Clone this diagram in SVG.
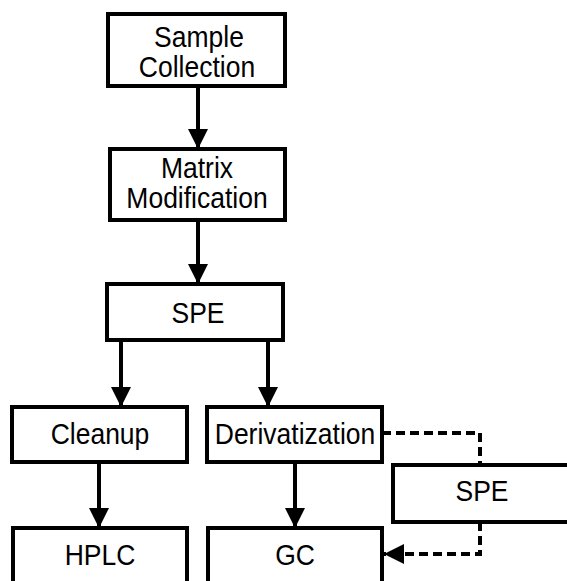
<svg xmlns="http://www.w3.org/2000/svg" width="567" height="581" viewBox="0 0 567 581">
<style>
.box{fill:#fff;stroke:#000;stroke-width:4}
.t{font-family:"Liberation Sans",Arial,sans-serif;font-size:26.5px;fill:#000;text-anchor:middle}
.c{stroke:#000;stroke-width:4;fill:none}
.d{stroke:#000;stroke-width:4;fill:none;stroke-dasharray:9,5}
</style>
<defs>
<marker id="ah" markerUnits="userSpaceOnUse" markerWidth="20" markerHeight="20" refX="20" refY="10" orient="auto">
<path d="M0,0 L20,10 L0,20 Z" fill="#000"/>
</marker>
</defs>
<rect width="567" height="581" fill="#fff"/>
<g id="connectors">
<line class="c" x1="198" y1="86" x2="198" y2="149" marker-end="url(#ah)"/>
<line class="c" x1="198" y1="220" x2="198" y2="284" marker-end="url(#ah)"/>
<line class="c" x1="121" y1="340" x2="121" y2="407" marker-end="url(#ah)"/>
<line class="c" x1="268" y1="340" x2="268" y2="407" marker-end="url(#ah)"/>
<line class="c" x1="99" y1="462" x2="99" y2="528" marker-end="url(#ah)"/>
<line class="c" x1="295" y1="462" x2="295" y2="528" marker-end="url(#ah)"/>
<polyline class="d" points="382,433 480,433 480,465"/>
<polyline class="d" points="480,522 480,554 384,554" marker-end="url(#ah)"/>
</g>
<g id="sample"><rect class="box" x="108" y="14" width="177" height="72"/><text class="t" transform="translate(199,47) scale(1,1.1)">Sample</text><text class="t" transform="translate(197,77) scale(1,1.1)">Collection</text></g>
<g id="matrix"><rect class="box" x="110" y="149" width="175" height="71"/><text class="t" transform="translate(197,178) scale(1,1.1)">Matrix</text><text class="t" transform="translate(197,208) scale(1,1.1)">Modification</text></g>
<g id="spe"><rect class="box" x="107" y="284" width="176" height="56"/><text class="t" transform="translate(198,323) scale(1,1.1)">SPE</text></g>
<g id="cleanup"><rect class="box" x="12" y="407" width="175" height="55"/><text class="t" transform="translate(100,444) scale(1,1.1)">Cleanup</text></g>
<g id="deriv"><rect class="box" x="207" y="407" width="175" height="55"/><text class="t" transform="translate(295,444) scale(1,1.1)">Derivatization</text></g>
<g id="spe2"><rect class="box" x="393" y="465" width="176" height="57"/><text class="t" transform="translate(482,501) scale(1,1.1)">SPE</text></g>
<g id="hplc"><rect class="box" x="13" y="528" width="174" height="70"/><text class="t" transform="translate(100,565) scale(1,1.1)">HPLC</text></g>
<g id="gc"><rect class="box" x="208" y="528" width="174" height="70"/><text class="t" transform="translate(295,565) scale(1,1.1)">GC</text></g>
</svg>
